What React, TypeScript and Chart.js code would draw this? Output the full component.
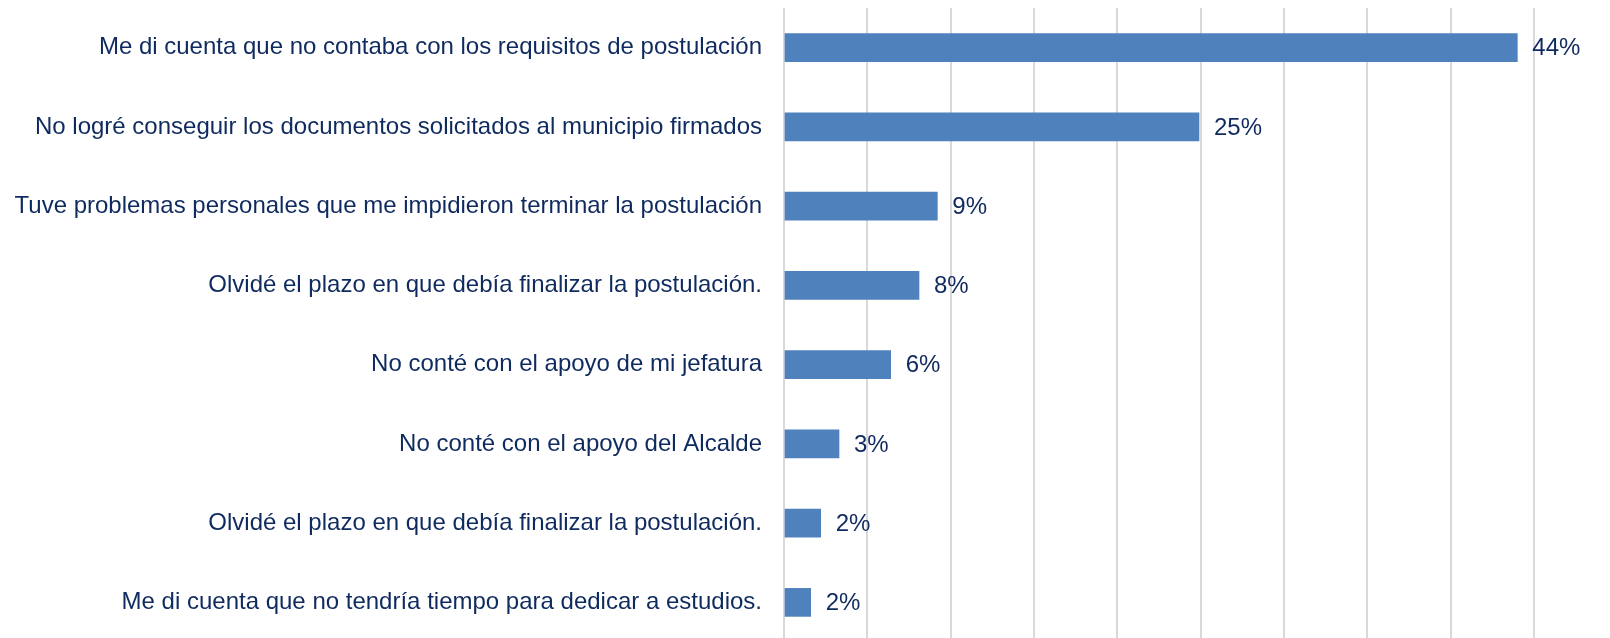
import React, { useEffect, useRef } from "react";
import { Chart, registerables } from "chart.js";

Chart.register(...registerables);

const categories: string[] = [
  "Me di cuenta que no contaba con los requisitos de postulación",
  "No logré conseguir los documentos solicitados al municipio firmados",
  "Tuve problemas personales que me impidieron terminar la postulación",
  "Olvidé el plazo en que debía finalizar la postulación.",
  "No conté con el apoyo de mi jefatura",
  "No conté con el apoyo del Alcalde",
  "Olvidé el plazo en que debía finalizar la postulación.",
  "Me di cuenta que no tendría tiempo para dedicar a estudios.",
];

const values: number[] = [44.0, 24.9, 9.2, 8.1, 6.4, 3.3, 2.2, 1.6];

const xMin = 0;
const xMax = 45;
const xStep = 5;

const TEXT_COLOR = "#0f2a5e";
const BAR_COLOR = "#4f81bd";
const GRID_COLOR = "#d9d9d9";
const FONT = "'Liberation Sans', Arial, sans-serif";

const valueLabels = {
  id: "valueLabels",
  afterDatasetsDraw(chart: any) {
    const ctx = chart.ctx;
    const meta = chart.getDatasetMeta(0);
    ctx.save();
    ctx.font = `24px ${FONT}`;
    ctx.fillStyle = TEXT_COLOR;
    ctx.textAlign = "left";
    ctx.textBaseline = "middle";
    meta.data.forEach((el: any, i: number) => {
      const v = chart.data.datasets[0].data[i] as number;
      ctx.fillText(`${Math.round(v)}%`, el.x + 15, el.y + 1);
    });
    ctx.restore();
  },
};

export default function App() {
  const ref = useRef<HTMLCanvasElement | null>(null);

  useEffect(() => {
    if (!ref.current) return;
    const chart = new Chart(ref.current, {
      type: "bar",
      data: {
        labels: categories,
        datasets: [
          {
            data: values,
            backgroundColor: BAR_COLOR,
            borderWidth: 0,
            barThickness: 28,
          },
        ],
      },
      options: {
        indexAxis: "y",
        responsive: false,
        animation: false,
        maintainAspectRatio: false,
        layout: { padding: { top: 8, bottom: 4, left: 0, right: 76 } },
        plugins: {
          legend: { display: false },
          tooltip: { enabled: false },
          title: { display: false },
        },
        scales: {
          x: {
            min: xMin,
            max: xMax,
            ticks: { display: false, stepSize: xStep },
            grid: { color: GRID_COLOR, lineWidth: 2, drawTicks: false },
            border: { display: false },
          },
          y: {
            grid: { display: false, drawTicks: false },
            border: { display: false },
            ticks: {
              color: TEXT_COLOR,
              padding: 22,
              font: { family: FONT, size: 24 },
            },
            afterFit(scale: any) {
              scale.width = 784;
              scale.paddingTop = 0;
              scale.paddingBottom = 0;
            },
          },
        },
      },
      plugins: [valueLabels],
    });
    return () => chart.destroy();
  }, []);

  return (
    <div
      style={{
        position: "fixed",
        left: 0,
        top: 0,
        width: 1610,
        height: 638,
        overflow: "hidden",
        background: "#fff",
      }}
    >
      <canvas ref={ref} width={1610} height={646} style={{ display: "block" }} />
    </div>
  );
}
